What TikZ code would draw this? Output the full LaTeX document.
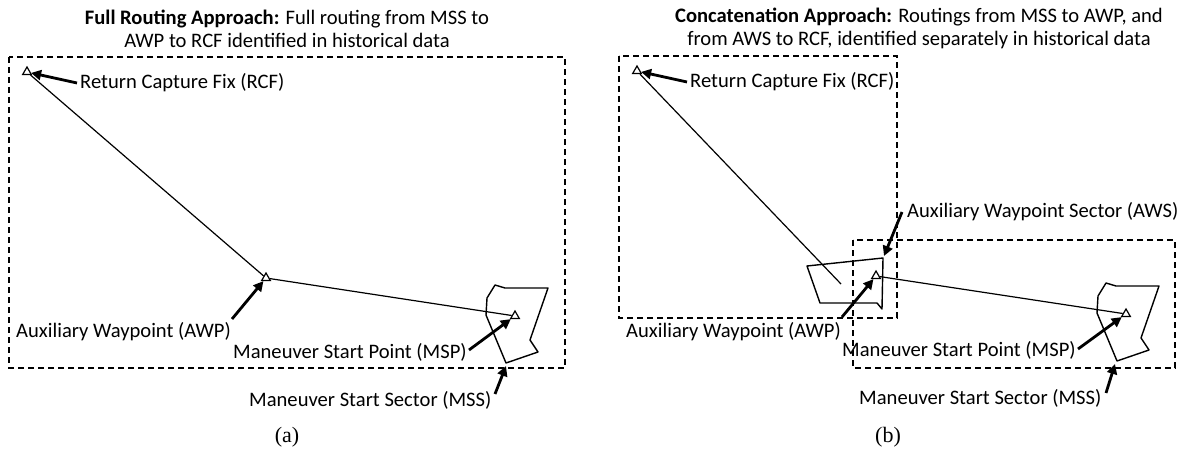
\documentclass[tikz,border=0pt]{standalone}
\usepackage{fontspec}
\setmainfont{Carlito}
\newfontfamily\capfont{Liberation Serif}
\usetikzlibrary{arrows.meta,shapes.geometric}
\begin{document}
\begin{tikzpicture}[x=1pt,y=-1pt,
  lbl/.style={font=\fontsize{20.6}{23}\selectfont, inner sep=0pt, anchor=west},
  ttl/.style={font=\fontsize{20.6}{23}\selectfont, align=center, inner sep=0pt},
  panelcap/.style={font=\capfont\fontsize{22}{26}\selectfont, inner sep=0pt},
  fix/.style={regular polygon, regular polygon sides=3, draw, line width=1.2pt,
              minimum size=10pt, inner sep=0pt},
  region/.style={dash pattern=on 6pt off 4pt, line width=1.2pt},
  route/.style={line width=1.2pt},
  sector/.style={line width=1.4pt, line join=round},
  pointer/.style={line width=2.8pt, -{Triangle[length=10pt,width=10pt]}},
]
\useasboundingbox (0,0) rectangle (1185,449);

% ---------------- (a) full routing ----------------
\node[ttl] (titleA) at (287,28.5)
  {\textbf{Full Routing Approach:} Full routing from MSS to\\AWP to RCF identified in historical data};
\draw[region] (9,57) rectangle (565,368);

\node[fix] (rcfA) at (27,72) {};
\node[fix] (awpA) at (266,278) {};
\node[fix] (mspA) at (515,316) {};

\draw[route] (rcfA) -- (awpA) -- (mspA);
\draw[sector, shift={(515,315)}]
  (-20,-30) -- (-10,-27) -- (33,-27) -- (15,25) -- (23,37) -- (-9,48)
  -- (-29,0) -- (-28,-17) -- cycle;

\node[lbl] (rcfLblA) at (80,83) {Return Capture Fix (RCF)};
\node[lbl] (awpLblA) at (16,332) {Auxiliary Waypoint (AWP)};
\node[lbl] (mspLblA) at (233,352) {Maneuver Start Point (MSP)};
\node[lbl] (mssLblA) at (249,400) {Maneuver Start Sector (MSS)};

\coordinate (rcfTailA) at (77,83);
\coordinate (awpTailA) at (232,319);
\coordinate (mspTailA) at (469,350);
\coordinate (mssTailA) at (495,394);
\coordinate (mssTipA) at (506,366);

\draw[pointer] (rcfTailA) -- (rcfA);
\draw[pointer] (awpTailA) -- (awpA);
\draw[pointer] (mspTailA) -- (mspA);
\draw[pointer] (mssTailA) -- (mssTipA);

\node[panelcap] (capA) at (287,437) {(a)};

% ---------------- (b) concatenation ----------------
\node[ttl] (titleB) at (919,28.5)
  {\textbf{Concatenation Approach:} Routings from MSS to AWP, and\\from AWS to RCF, identified separately in historical data};
\draw[region] (619,56) rectangle (897,318);
\draw[region] (853,240) rectangle (1175,368);

\node[fix] (rcfB) at (637,71) {};
\node[fix] (awpB) at (876,276) {};
\node[fix] (mspB) at (1126,314) {};
\coordinate (rcfEndB) at (841,284);

\draw[route] (rcfB) -- (rcfEndB);
\draw[route] (awpB) -- (mspB);
\draw[sector] (807,266) -- (883,258) -- (882,309) -- (877,303) -- (820,303) -- cycle;
\draw[sector, shift={(1126,313)}]
  (-20,-30) -- (-10,-27) -- (33,-27) -- (15,25) -- (23,37) -- (-9,48)
  -- (-29,0) -- (-28,-17) -- cycle;

\node[lbl] (rcfLblB) at (690,82) {Return Capture Fix (RCF)};
\node[lbl] (awsLblB) at (907,212) {Auxiliary Waypoint Sector (AWS)};
\node[lbl] (awpLblB) at (626,332) {Auxiliary Waypoint (AWP)};
\node[lbl] (mspLblB) at (842,350) {Maneuver Start Point (MSP)};
\node[lbl] (mssLblB) at (859,398) {Maneuver Start Sector (MSS)};

\coordinate (rcfTailB) at (687,82);
\coordinate (awsTailB) at (902,212);
\coordinate (awsTipB) at (884,256);
\coordinate (awpTailB) at (842,317);
\coordinate (mspTailB) at (1078,349);
\coordinate (mssTailB) at (1106,393);
\coordinate (mssTipB) at (1115,364);

\draw[pointer] (rcfTailB) -- (rcfB);
\draw[pointer] (awsTailB) -- (awsTipB);
\draw[pointer] (awpTailB) -- (awpB);
\draw[pointer] (mspTailB) -- (mspB);
\draw[pointer] (mssTailB) -- (mssTipB);

\node[panelcap] (capB) at (888,437) {(b)};
\end{tikzpicture}
\end{document}
